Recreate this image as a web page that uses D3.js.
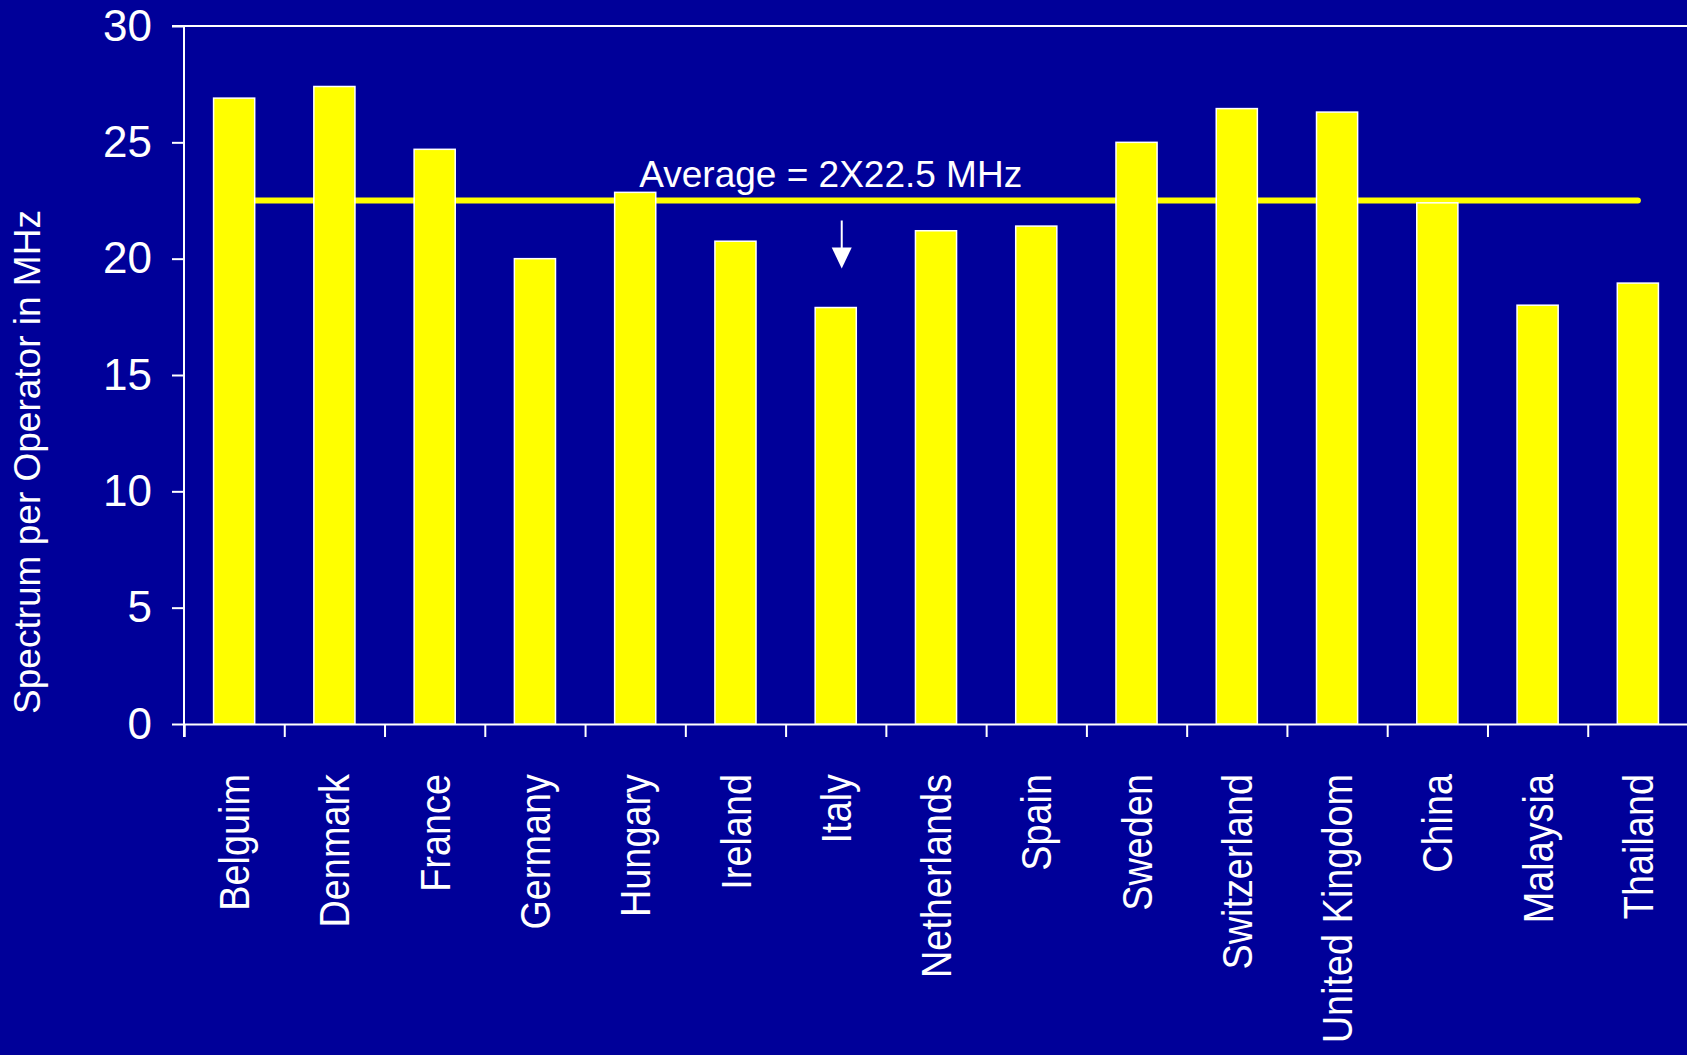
<!DOCTYPE html>
<html>
<head>
<meta charset="utf-8">
<script src="https://cdn.jsdelivr.net/npm/d3@7"></script>
<style>
  html, body { margin: 0; padding: 0; background: #000099; overflow: hidden; }
  svg { display: block; }
  text { font-family: "Liberation Sans", Arial, sans-serif; fill: #fff; }
</style>
</head>
<body>
<div id="chart"></div>
<script>
// data
const categories = ["Belguim", "Denmark", "France", "Germany", "Hungary", "Ireland", "Italy",
  "Netherlands", "Spain", "Sweden", "Switzerland", "United Kingdom", "China", "Malaysia", "Thailand"];
const spectrum = [26.9, 27.4, 24.7, 20.0, 22.85, 20.75, 17.9, 21.2, 21.4, 25.0, 26.45, 26.3, 22.4, 18.0, 18.95];
const yTicks = [0, 5, 10, 15, 20, 25, 30];
const average = 22.5;
const averageLabel = "Average = 2X22.5 MHz";
const yTitle = "Spectrum per Operator in MHz";

const width = 1687, height = 1055;
const plotLeft = 184, plotRight = 1688, plotTop = 26, plotBottom = 724;

const svg = d3.select('#chart').append('svg')
  .attr('width', width).attr('height', height);
svg.append('rect').attr('width', width).attr('height', height).attr('fill', '#000099');

// scales
const x = d3.scaleBand().domain(categories).range([plotLeft, plotRight])
  .paddingInner(0.59).paddingOuter(0.295);
const y = d3.scaleLinear().domain([0, 30]).range([plotBottom, plotTop]);
const idx = d3.scaleLinear().domain([0, categories.length]).range([plotLeft, plotRight]);
const bw = x.bandwidth();
const cx = c => x(c) + bw / 2;

// top border line at 30
svg.append('line')
  .attr('x1', plotLeft - 12).attr('x2', width)
  .attr('y1', y(30)).attr('y2', y(30))
  .attr('stroke', '#fff').attr('stroke-width', 2);

// y axis
const yAxis = svg.append('g').attr('transform', `translate(${plotLeft},0)`)
  .call(d3.axisLeft(y).tickValues(yTicks).tickSize(12).tickPadding(20));
yAxis.select('.domain').remove();
yAxis.selectAll('line').attr('stroke', '#fff').attr('stroke-width', 2);
yAxis.selectAll('text').attr('fill', '#fff').style('font-size', '44px')
  .style('font-family', '"Liberation Sans", Arial, sans-serif');
svg.append('line')
  .attr('x1', plotLeft).attr('x2', plotLeft)
  .attr('y1', y(30)).attr('y2', y(0) + 13)
  .attr('stroke', '#fff').attr('stroke-width', 2);

// x axis boundary ticks
const xAxis = svg.append('g').attr('transform', `translate(0,${y(0)})`)
  .call(d3.axisBottom(idx).tickValues(d3.range(categories.length + 1)).tickFormat('').tickSize(13));
xAxis.selectAll('.domain').attr('stroke', '#fff').attr('stroke-width', 2);
xAxis.selectAll('line').attr('stroke', '#fff').attr('stroke-width', 2);

// average line (behind bars)
svg.append('line')
  .attr('x1', cx(categories[0])).attr('x2', cx(categories[categories.length - 1]))
  .attr('y1', y(average)).attr('y2', y(average))
  .attr('stroke', '#FFFF00').attr('stroke-width', 6).attr('stroke-linecap', 'round');

// bars
svg.selectAll('rect.bar')
  .data(categories)
  .enter()
  .append('rect')
  .attr('class', 'bar')
  .attr('x', d => x(d))
  .attr('y', (d, i) => y(spectrum[i]))
  .attr('width', bw)
  .attr('height', (d, i) => y(0) - y(spectrum[i]))
  .attr('fill', '#FFFF00')
  .attr('stroke', '#fff')
  .attr('stroke-width', 1.5);

// category labels
svg.selectAll('text.cat')
  .data(categories)
  .enter()
  .append('text')
  .attr('class', 'cat')
  .attr('transform', d => `translate(${cx(d)},774) rotate(-90) scale(0.88,1)`)
  .attr('text-anchor', 'end')
  .attr('dy', '0.35em')
  .style('font-size', '43px')
  .text(d => d);

// y title
svg.append('text')
  .attr('transform', 'translate(40,462) rotate(-90)')
  .attr('text-anchor', 'middle')
  .style('font-size', '37px')
  .text(yTitle);

// average label + arrow
const ax = cx('Italy') + 6;
svg.append('text')
  .attr('x', ax - 11).attr('y', y(average) - 14)
  .attr('text-anchor', 'middle')
  .style('font-size', '37px')
  .text(averageLabel);
svg.append('line')
  .attr('x1', ax).attr('x2', ax)
  .attr('y1', y(average) + 20).attr('y2', y(average) + 50)
  .attr('stroke', '#fff').attr('stroke-width', 2);
svg.append('path')
  .attr('d', `M${ax - 10},${y(average) + 47} L${ax + 10},${y(average) + 47} L${ax},${y(average) + 68} Z`)
  .attr('fill', '#fff');
</script>
</body>
</html>
